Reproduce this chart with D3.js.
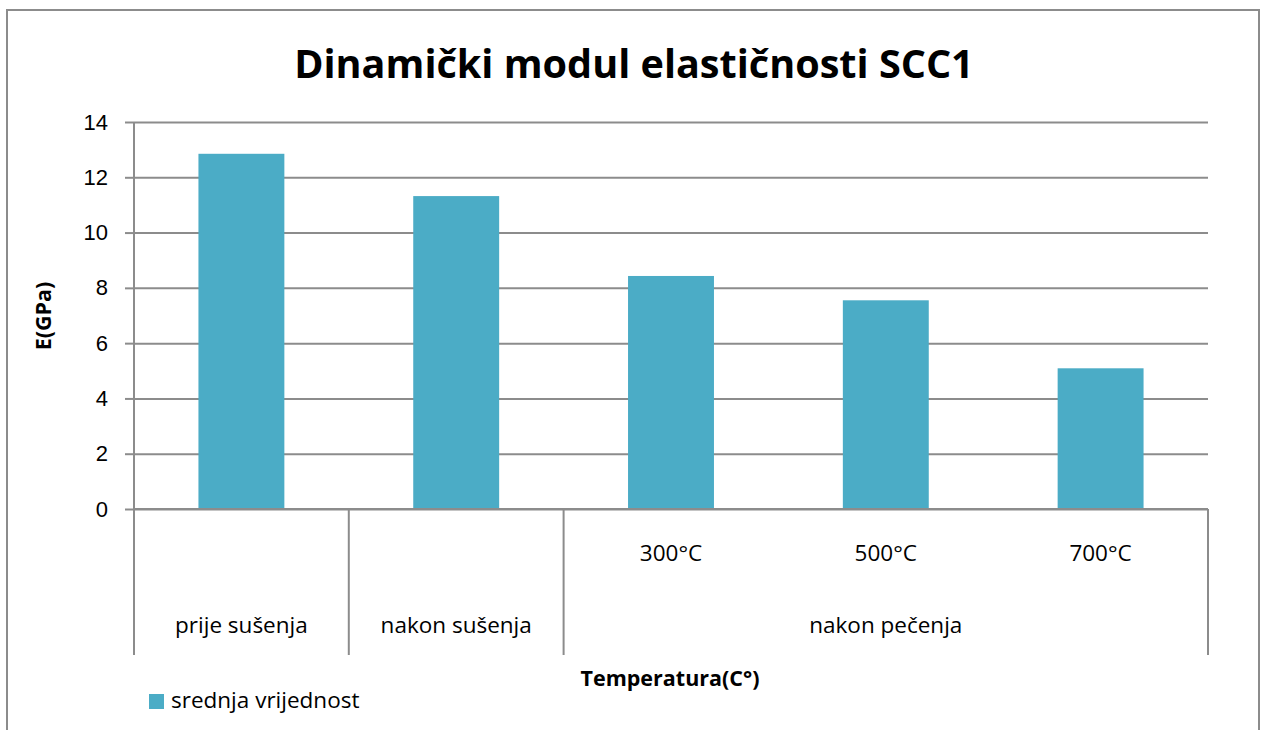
<!DOCTYPE html>
<html>
<head>
<meta charset="utf-8">
<script src="https://cdn.jsdelivr.net/npm/d3@7"></script>
<style>
  body { margin: 0; background: #fff; }
  svg { display: block; font-family: "Open Sans", sans-serif; }
</style>
</head>
<body>
<div id="chart"></div>
<script>
// chart data
const categories = ["prije sušenja", "nakon sušenja", "300°C", "500°C", "700°C"];
const values = [12.85, 11.32, 8.43, 7.55, 5.09];
const groups = [
  { label: "prije sušenja", from: 0, to: 0 },
  { label: "nakon sušenja", from: 1, to: 1 },
  { label: "nakon pečenja", from: 2, to: 4 }
];
const subLabels = ["", "", "300°C", "500°C", "700°C"];
const yTicks = [0, 2, 4, 6, 8, 10, 12, 14];
const seriesName = "srednja vrijednost";

const W = 1261, H = 730;
const margin = { left: 134, right: 53, top: 122, bottom: 221 };
const width = W - margin.left - margin.right;
const height = H - margin.top - margin.bottom;
const barColor = "#4BACC6";
const lineColor = "#8c8c8c";

const svg = d3.select("#chart").append("svg")
  .attr("width", W).attr("height", H);

// outer frame
svg.append("rect")
  .attr("x", 7).attr("y", 10)
  .attr("width", 1252).attr("height", 740)
  .attr("fill", "#fff")
  .attr("stroke", lineColor).attr("stroke-width", 2);

svg.append("text")
  .attr("x", 634).attr("y", 78)
  .attr("text-anchor", "middle")
  .attr("font-weight", "bold")
  .attr("font-size", 39.6)
  .text("Dinamički modul elastičnosti SCC1");

const g = svg.append("g").attr("transform", `translate(${margin.left},${margin.top})`);

const x = d3.scaleBand().domain(categories).range([0, width])
  .paddingInner(0.6).paddingOuter(0.3);
const y = d3.scaleLinear().domain([0, 14]).range([height, 0]);

// gridlines
g.append("g")
  .call(d3.axisLeft(y).tickValues(yTicks).tickSize(-width).tickFormat(""))
  .call(s => s.select(".domain").remove())
  .selectAll(".tick line")
  .attr("stroke", lineColor).attr("stroke-width", 2);

// bars
g.selectAll(".bar").data(values).enter().append("rect")
  .attr("class", "bar")
  .attr("x", (d, i) => x(categories[i]))
  .attr("y", d => y(d))
  .attr("width", x.bandwidth())
  .attr("height", d => height - y(d))
  .attr("fill", barColor);

// y axis
const yAxis = g.append("g")
  .call(d3.axisLeft(y).tickValues(yTicks).tickSize(9).tickPadding(17).tickFormat(d3.format("d")));
yAxis.select(".domain").remove();
yAxis.selectAll(".tick line").attr("stroke", lineColor).attr("stroke-width", 2);
yAxis.selectAll(".tick text").attr("font-size", 22).attr("fill", "#000");

// axis lines
const lowY = height + 146;
g.append("line").attr("x1", 0).attr("x2", 0).attr("y1", 0).attr("y2", lowY)
  .attr("stroke", lineColor).attr("stroke-width", 2);
g.append("line").attr("x1", 0).attr("x2", width).attr("y1", height).attr("y2", height)
  .attr("stroke", lineColor).attr("stroke-width", 2);

// group dividers
const step = x.step();
groups.forEach(grp => {
  const right = (grp.to + 1) * step;
  g.append("line").attr("x1", right).attr("x2", right).attr("y1", height).attr("y2", lowY)
    .attr("stroke", lineColor).attr("stroke-width", 2);
  g.append("text")
    .attr("x", (grp.from * step + right) / 2)
    .attr("y", height + 124)
    .attr("text-anchor", "middle")
    .attr("font-size", 22.5)
    .text(grp.label);
});

g.selectAll(".sub").data(subLabels).enter().append("text")
  .attr("class", "sub")
  .attr("x", (d, i) => x(categories[i]) + x.bandwidth() / 2)
  .attr("y", height + 52)
  .attr("text-anchor", "middle")
  .attr("font-size", 22.5)
  .text(d => d);

// axis titles
svg.append("text")
  .attr("transform", "translate(51,316) rotate(-90)")
  .attr("text-anchor", "middle")
  .attr("font-weight", "bold")
  .attr("font-size", 21.5)
  .text("E(GPa)");

svg.append("text")
  .attr("x", 670).attr("y", 686)
  .attr("text-anchor", "middle")
  .attr("font-weight", "bold")
  .attr("font-size", 21.5)
  .text("Temperatura(C°)");

// legend
const legend = svg.append("g").attr("transform", "translate(149,694)");
legend.append("rect").attr("width", 15).attr("height", 15).attr("fill", barColor);
legend.append("text").attr("x", 22).attr("y", 14).attr("font-size", 22.5).text(seriesName);
</script>
</body>
</html>
